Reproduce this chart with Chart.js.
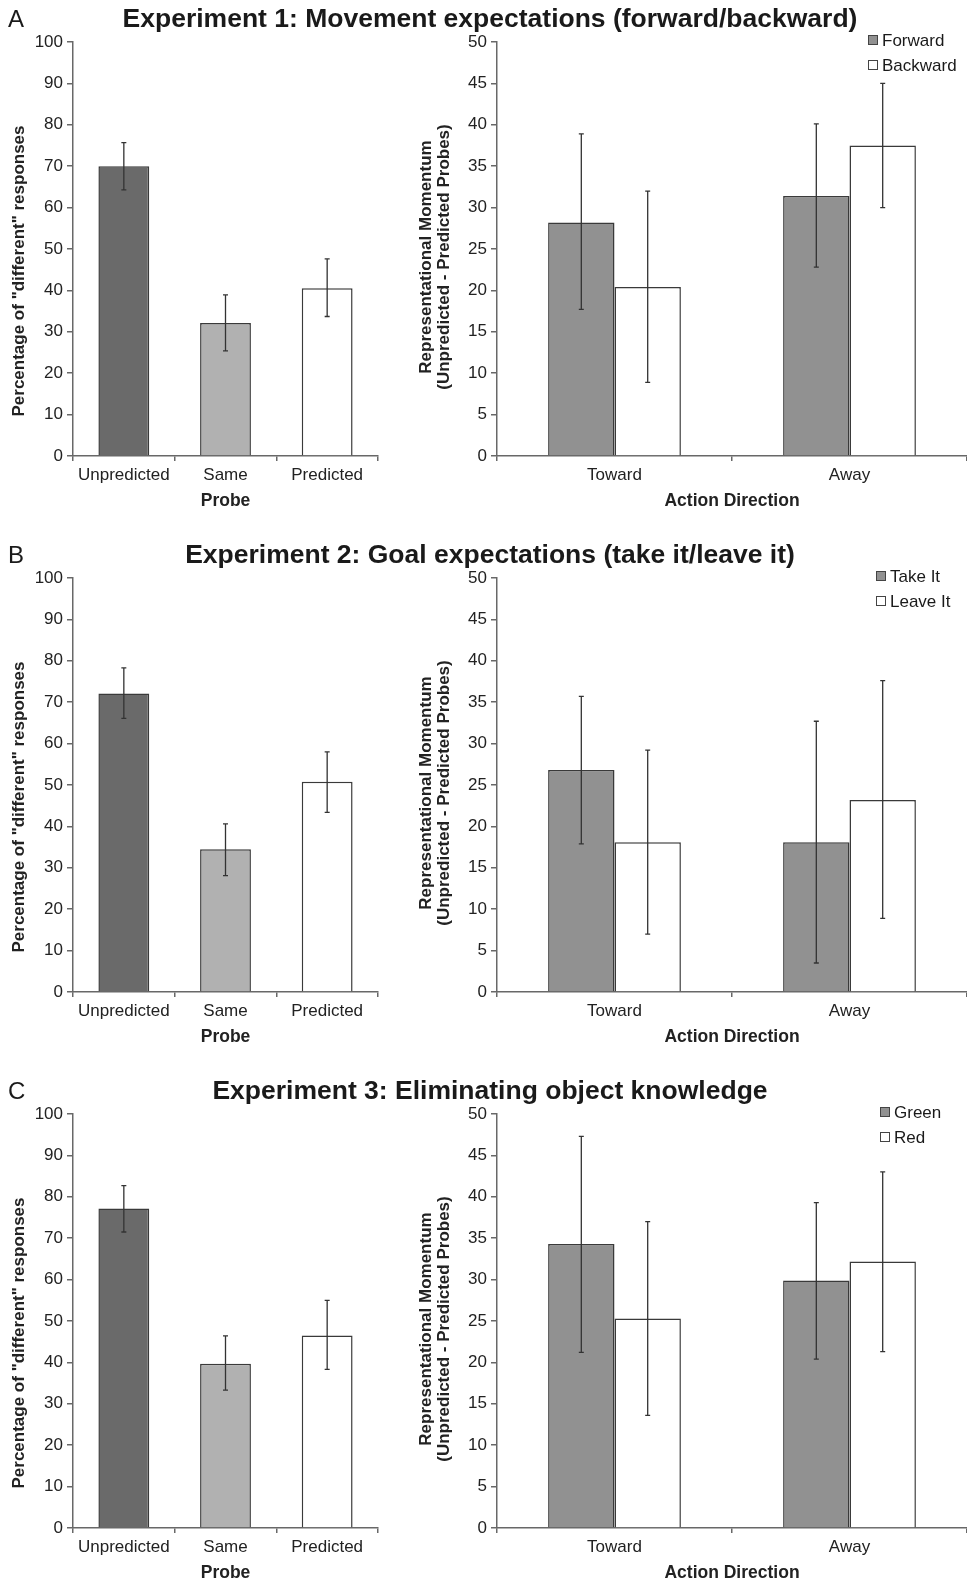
<!DOCTYPE html>
<html>
<head>
<meta charset="utf-8">
<script src="https://cdn.jsdelivr.net/npm/chart.js@4.4.1/dist/chart.umd.min.js"></script>
<style>
    html, body { margin: 0; padding: 0; background: #fff; }
    body { width: 967px; height: 1587px; position: relative; overflow: hidden; font-family: "Liberation Sans", Arial, sans-serif; color: #1a1a1a; }
    .panel { position: absolute; left: 0; width: 967px; height: 536px; }
    .panel canvas { position: absolute; top: 0; }
    .letter { position: absolute; left: 8px; top: 7px; font-size: 24px; line-height: 24px; }
    .title { position: absolute; left: 0; width: 980px; top: 5px; text-align: center; font-size: 26.5px; line-height: 27px; font-weight: bold; }
    .legend { position: absolute; top: 28px; font-size: 17px; line-height: 25px; }
    .legend span.box { display: inline-block; width: 8px; height: 8px; border: 1px solid #444; margin-right: 4px; vertical-align: 1px; }
</style>
</head>
<body>

<script>
// categories
const probeLabels = ['Unpredicted', 'Same', 'Predicted'];
const directionLabels = ['Toward', 'Away'];
const panelLetters = ['A', 'B', 'C'];
const panelTitles = [
    'Experiment 1: Movement expectations (forward/backward)',
    'Experiment 2: Goal expectations (take it/leave it)',
    'Experiment 3: Eliminating object knowledge'
];
const probeAxisTitle = ['Percentage of "different" responses'];
const momentumAxisTitle = ['Representational Momentum', '(Unpredicted - Predicted Probes)'];

// Experiment 1
const exp1Probe = [70.0, 32.1, 40.5];
const exp1ProbeLo = [64.3, 25.4, 33.7];
const exp1ProbeHi = [75.7, 38.9, 47.6];
const exp1Names = ['Forward', 'Backward'];
const exp1First = [28.2, 31.4];
const exp1FirstLo = [17.7, 22.8];
const exp1FirstHi = [38.9, 40.1];
const exp1Second = [20.4, 37.5];
const exp1SecondLo = [8.9, 30.0];
const exp1SecondHi = [32.0, 45.0];

// Experiment 2
const exp2Probe = [72.1, 34.5, 50.8];
const exp2ProbeLo = [66.1, 28.1, 43.4];
const exp2ProbeHi = [78.3, 40.6, 58.0];
const exp2Names = ['Take It', 'Leave It'];
const exp2First = [26.8, 18.1];
const exp2FirstLo = [17.9, 3.5];
const exp2FirstHi = [35.7, 32.7];
const exp2Second = [18.1, 23.2];
const exp2SecondLo = [7.0, 8.9];
const exp2SecondHi = [29.2, 37.6];

// Experiment 3
const exp3Probe = [77.2, 39.7, 46.5];
const exp3ProbeLo = [71.5, 33.3, 38.3];
const exp3ProbeHi = [82.7, 46.4, 55.0];
const exp3Names = ['Green', 'Red'];
const exp3First = [34.3, 29.9];
const exp3FirstLo = [21.2, 20.4];
const exp3FirstHi = [47.3, 39.3];
const exp3Second = [25.3, 32.2];
const exp3SecondLo = [13.6, 21.3];
const exp3SecondHi = [37.0, 43.0];

const probeColors = ['#6a6a6a', '#b1b1b1', '#ffffff'];
const pairColors = ['#919191', '#ffffff'];

const experiments = [
    { probe: [exp1Probe, exp1ProbeLo, exp1ProbeHi], names: exp1Names, legendLeft: 868,
      first: [exp1First, exp1FirstLo, exp1FirstHi], second: [exp1Second, exp1SecondLo, exp1SecondHi] },
    { probe: [exp2Probe, exp2ProbeLo, exp2ProbeHi], names: exp2Names, legendLeft: 876,
      first: [exp2First, exp2FirstLo, exp2FirstHi], second: [exp2Second, exp2SecondLo, exp2SecondHi] },
    { probe: [exp3Probe, exp3ProbeLo, exp3ProbeHi], names: exp3Names, legendLeft: 880,
      first: [exp3First, exp3FirstLo, exp3FirstHi], second: [exp3Second, exp3SecondLo, exp3SecondHi] }
];

const ROW_H = 536;
const AXIS = '#686868';
const TEXT = '#222';

// draws the SE whiskers on top of the bars
const errorBars = {
    id: 'errorBars',
    afterDatasetsDraw(chart) {
        const ctx = chart.ctx;
        const y = chart.scales.y;
        ctx.save();
        ctx.strokeStyle = '#333';
        ctx.lineWidth = 1.3;
        chart.data.datasets.forEach((ds, i) => {
            chart.getDatasetMeta(i).data.forEach((bar, j) => {
                const top = y.getPixelForValue(ds.errHi[j]);
                const bot = y.getPixelForValue(ds.errLo[j]);
                ctx.beginPath();
                ctx.moveTo(bar.x, top); ctx.lineTo(bar.x, bot);
                ctx.moveTo(bar.x - 2.5, top); ctx.lineTo(bar.x + 2.5, top);
                ctx.moveTo(bar.x - 2.5, bot); ctx.lineTo(bar.x + 2.5, bot);
                ctx.stroke();
            });
        });
        ctx.restore();
    }
};

// rotated y title, sits a little below the middle of the axis like the original
const yTitle = {
    id: 'yTitle',
    afterDraw(chart, args, opts) {
        const { ctx, chartArea } = chart;
        const cy = (chartArea.top + chartArea.bottom) / 2 + opts.dy;
        ctx.save();
        ctx.font = 'bold 17px "Liberation Sans"';
        ctx.fillStyle = TEXT;
        ctx.textAlign = 'center';
        ctx.textBaseline = 'middle';
        opts.lines.forEach((line, i) => {
            ctx.save();
            ctx.translate(opts.x + i * opts.gap, cy);
            ctx.rotate(-Math.PI / 2);
            ctx.fillText(line, 0, 0);
            ctx.restore();
        });
        ctx.restore();
    }
};

const baseOptions = (yMax, yStep, yWidth, padRight, titleOpts) => ({
    responsive: false,
    animation: false,
    layout: { padding: { top: 42, right: padRight, bottom: 20, left: 0 } },
    plugins: { legend: { display: false }, tooltip: { enabled: false }, yTitle: titleOpts },
    scales: {
        x: {
            border: { display: true, color: AXIS, width: 1.5 },
            grid: { display: true, offset: true, drawOnChartArea: false, drawTicks: true, tickLength: 5, color: AXIS, lineWidth: 1.5 },
            ticks: { color: TEXT, font: { family: 'Liberation Sans', size: 17 }, padding: 4, maxRotation: 0 },
            title: { display: true, color: TEXT, font: { family: 'Liberation Sans', size: 17.5, weight: 'bold' }, padding: { top: 0, bottom: 4 } },
            afterFit: (s) => { s.height = 60; }
        },
        y: {
            min: 0, max: yMax,
            border: { display: true, color: AXIS, width: 1.5 },
            grid: { display: true, drawOnChartArea: false, drawTicks: true, tickLength: 6, color: AXIS, lineWidth: 1.5 },
            ticks: { stepSize: yStep, color: TEXT, font: { family: 'Liberation Sans', size: 17 }, padding: 4 },
            afterFit: (s) => { s.width = yWidth; }
        }
    }
});

experiments.forEach((exp, r) => {
    const panel = document.createElement('div');
    panel.className = 'panel';
    panel.style.top = (r * ROW_H) + 'px';
    document.body.appendChild(panel);

    const left = document.createElement('canvas');
    left.width = 395; left.height = ROW_H;
    left.style.left = '0px';
    panel.appendChild(left);

    const right = document.createElement('canvas');
    right.width = 567; right.height = ROW_H;
    right.style.left = '400px';
    panel.appendChild(right);

    panel.insertAdjacentHTML('beforeend',
        '<div class="letter">' + panelLetters[r] + '</div>' +
        '<div class="title">' + panelTitles[r] + '</div>' +
        '<div class="legend" style="left:' + exp.legendLeft + 'px">' + exp.names.map((n, k) =>
            '<div><span class="box" style="background:' + pairColors[k] + '"></span>' + n + '</div>').join('') + '</div>');

    const lOpts = baseOptions(100, 10, 73, 17, { lines: probeAxisTitle, x: 19, gap: 0, dy: 22 });
    lOpts.scales.x.title.text = 'Probe';
    new Chart(left.getContext('2d'), {
        type: 'bar',
        data: {
            labels: probeLabels,
            datasets: [{
                data: exp.probe[0], errLo: exp.probe[1], errHi: exp.probe[2],
                backgroundColor: probeColors, borderColor: '#3a3a3a', borderWidth: 1.5,
                categoryPercentage: 0.5, barPercentage: 1
            }]
        },
        options: lOpts,
        plugins: [errorBars, yTitle]
    });

    const rOpts = baseOptions(50, 5, 97, 0, { lines: momentumAxisTitle, x: 26, gap: 18, dy: 8 });
    rOpts.scales.x.title.text = 'Action Direction';
    new Chart(right.getContext('2d'), {
        type: 'bar',
        data: {
            labels: directionLabels,
            datasets: [exp.first, exp.second].map((s, k) => ({
                label: exp.names[k],
                data: s[0], errLo: s[1], errHi: s[2],
                backgroundColor: pairColors[k], borderColor: '#3a3a3a', borderWidth: 1.5,
                categoryPercentage: 0.565, barPercentage: 1
            }))
        },
        options: rOpts,
        plugins: [errorBars, yTitle]
    });
});
</script>
</body>
</html>
